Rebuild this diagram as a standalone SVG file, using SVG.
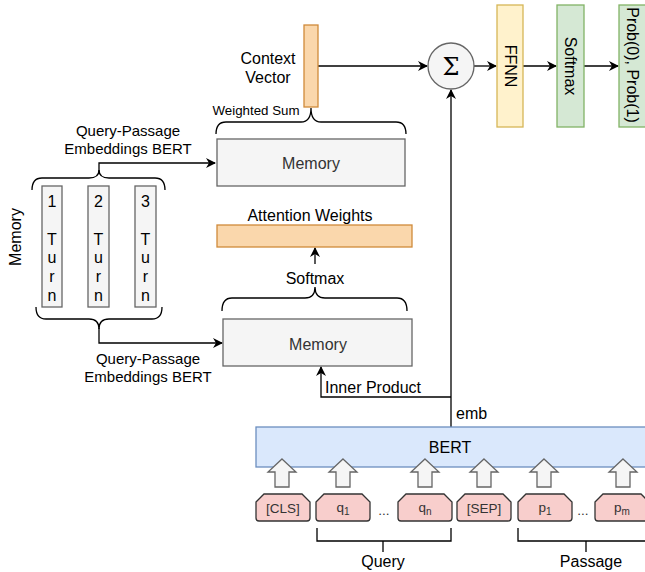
<svg xmlns="http://www.w3.org/2000/svg" width="645" height="572" viewBox="0 0 645 572">
<defs>
<marker id="arr" viewBox="0 0 10 10" refX="9" refY="5" markerWidth="10" markerHeight="10" markerUnits="userSpaceOnUse" orient="auto">
<path d="M0,0 L10,5 L0,10 L3,5 Z" fill="#000"/>
</marker>
<style>
text{font-family:"Liberation Sans",Arial,sans-serif;fill:#000}
.t16{font-size:16px}
.t15{font-size:15px}
.t13{font-size:13px}
.tk{font-size:13.5px;fill:#333}
.gray{fill:#f5f5f5;stroke:#666;stroke-width:1.3}
.orange{fill:#fad7ac;stroke:#d08a3a;stroke-width:1.3}
.line{fill:none;stroke:#000;stroke-width:1.3}
.tok{fill:#f8cecc;stroke:#333;stroke-width:1.3}
.barr{fill:#f5f5f5;stroke:#666;stroke-width:1.3}
.memtxt{fill:#333}
</style>
</defs>
<rect width="645" height="572" fill="#fff"/>

<g id="connectors">
<path class="line" d="M318,66 L427,66" marker-end="url(#arr)"/>
<path class="line" d="M474,66 L496,66" marker-end="url(#arr)"/>
<path class="line" d="M523,66 L556,66" marker-end="url(#arr)"/>
<path class="line" d="M584,66 L618,66" marker-end="url(#arr)"/>
<path class="line" d="M451,427 L451,90" marker-end="url(#arr)"/>
<path class="line" d="M451,397 L321,397 L321,367" marker-end="url(#arr)"/>
<path class="line" d="M315,264 L315,248" marker-end="url(#arr)"/>
<path class="line" d="M99,172 L99,163 L215,163" marker-end="url(#arr)"/>
<path class="line" d="M99,328 L99,343 L222,343" marker-end="url(#arr)"/>
<path class="line" d="M216,134 Q216,122 226,122 L301,122 Q311,122 311,108 Q311,122 321,122 L396,122 Q406,122 406,134"/>
<path class="line" d="M222,311 Q222,298 232,298 L305,298 Q315,298 315,287 Q315,298 325,298 L397,298 Q407,298 407,311"/>
<path class="line" d="M32,190 Q32,178 42,178 L89,178 Q99,178 99,170 Q99,178 109,178 L155,178 Q165,178 165,190"/>
<path class="line" d="M36,307 Q36,319 46,319 L89,319 Q99,319 99,329 Q99,319 109,319 L152,319 Q162,319 162,307"/>
<path class="line" d="M317,528 L317,541 L451,541 L451,528 M383,541 L383,552"/>
<path class="line" d="M518,528 L518,541 L650,541 M586,541 L586,552"/>
</g>

<g id="context-vector">
<rect class="orange" x="304" y="25" width="14" height="82"/>
<text class="t16" x="268" y="64" text-anchor="middle">Context</text>
<text class="t16" x="268" y="83" text-anchor="middle">Vector</text>
</g>
<g id="weighted-sum"><text style="font-size:13.3px" x="256" y="115" text-anchor="middle">Weighted Sum</text></g>

<g id="memory-top">
<rect class="gray" x="217" y="139" width="188" height="47"/>
<text class="t16 memtxt" x="311" y="169" text-anchor="middle">Memory</text>
</g>

<g id="attention-weights">
<text class="t16" x="310" y="221" text-anchor="middle">Attention Weights</text>
<rect class="orange" x="217" y="225" width="195" height="22"/>
</g>

<g id="softmax-label"><text class="t16" x="315" y="284" text-anchor="middle">Softmax</text></g>

<g id="memory-bottom">
<rect class="gray" x="223" y="319" width="189" height="47"/>
<text class="t16 memtxt" x="318" y="350" text-anchor="middle">Memory</text>
</g>

<g id="inner-product"><text class="t16" x="325" y="393">Inner Product</text></g>

<g id="qp-top">
<text class="t15" x="128" y="136" text-anchor="middle">Query-Passage</text>
<text class="t15" x="128" y="154" text-anchor="middle">Embeddings BERT</text>
</g>
<g id="qp-bottom">
<text class="t15" x="148" y="364" text-anchor="middle">Query-Passage</text>
<text class="t15" x="148" y="382" text-anchor="middle">Embeddings BERT</text>
</g>

<g id="memory-label"><text class="t16" transform="translate(21,237) rotate(-90)" text-anchor="middle">Memory</text></g>

<g id="turn1">
<rect class="gray" x="42" y="186" width="20" height="121"/>
<g class="t16" text-anchor="middle" style="fill:#333">
<text x="52" y="207">1</text><text x="52" y="245">T</text><text x="52" y="263">u</text><text x="52" y="282">r</text><text x="52" y="301">n</text>
</g>
</g>
<g id="turn2">
<rect class="gray" x="88" y="186" width="21" height="121"/>
<g class="t16" text-anchor="middle" style="fill:#333">
<text x="98.5" y="207">2</text><text x="98.5" y="245">T</text><text x="98.5" y="263">u</text><text x="98.5" y="282">r</text><text x="98.5" y="301">n</text>
</g>
</g>
<g id="turn3">
<rect class="gray" x="135" y="186" width="21" height="121"/>
<g class="t16" text-anchor="middle" style="fill:#333">
<text x="145.5" y="207">3</text><text x="145.5" y="245">T</text><text x="145.5" y="263">u</text><text x="145.5" y="282">r</text><text x="145.5" y="301">n</text>
</g>
</g>

<g id="sum">
<circle class="gray" cx="451" cy="66" r="23"/>
<text x="451" y="75" text-anchor="middle" style="font-family:'DejaVu Serif','Liberation Serif',serif;font-size:24px">Σ</text>
</g>

<g id="ffnn">
<rect x="497" y="5" width="26" height="122" fill="#fff2cc" stroke="#d6b656" stroke-width="1.3"/>
<text class="t16" transform="translate(505,66) rotate(90)" text-anchor="middle">FFNN</text>
</g>
<g id="softmax-out">
<rect x="557" y="5" width="27" height="122" fill="#d5e8d4" stroke="#82b366" stroke-width="1.3"/>
<text class="t16" transform="translate(565,66) rotate(90)" text-anchor="middle">Softmax</text>
</g>
<g id="prob">
<rect x="619" y="5" width="32" height="122" fill="#d5e8d4" stroke="#82b366" stroke-width="1.3"/>
<text class="t16" transform="translate(627,65) rotate(90)" text-anchor="middle">Prob(0), Prob(1)</text>
</g>

<g id="emb-label"><text class="t16" x="456" y="419">emb</text></g>

<g id="bert">
<rect x="256" y="427" width="395" height="40" fill="#dae8fc" stroke="#6c8ebf" stroke-width="1.3"/>
<text class="t16" x="450" y="453" text-anchor="middle">BERT</text>
</g>

<g id="input-arrows">
<path class="barr" d="M282,459 L296,472 L289,472 L289,487 L275,487 L275,472 L268,472 Z"/>
<path class="barr" d="M343,459 L357,472 L350,472 L350,487 L336,487 L336,472 L329,472 Z"/>
<path class="barr" d="M425,459 L439,472 L432,472 L432,487 L418,487 L418,472 L411,472 Z"/>
<path class="barr" d="M484,459 L498,472 L491,472 L491,487 L477,487 L477,472 L470,472 Z"/>
<path class="barr" d="M544,459 L558,472 L551,472 L551,487 L537,487 L537,472 L530,472 Z"/>
<path class="barr" d="M623,459 L637,472 L630,472 L630,487 L616,487 L616,472 L609,472 Z"/>
</g>

<g id="tok-cls">
<path class="tok" d="M256,502 L264,494 L302,494 L310,502 L310,518 Q310,521 307,521 L259,521 Q256,521 256,518 Z"/>
<text class="tk" x="283" y="513" text-anchor="middle">[CLS]</text>
</g>
<g id="tok-q1">
<path class="tok" d="M316,502 L324,494 L362,494 L370,502 L370,518 Q370,521 367,521 L319,521 Q316,521 316,518 Z"/>
<text class="tk" x="343" y="512" text-anchor="middle">q<tspan font-size="10" dy="3">1</tspan></text>
</g>
<g id="dots1"><text class="tk" x="384" y="515" text-anchor="middle">...</text></g>
<g id="tok-qn">
<path class="tok" d="M398,502 L406,494 L444,494 L452,502 L452,518 Q452,521 449,521 L401,521 Q398,521 398,518 Z"/>
<text class="tk" x="425" y="512" text-anchor="middle">q<tspan font-size="10" dy="3">n</tspan></text>
</g>
<g id="tok-sep">
<path class="tok" d="M457,502 L465,494 L503,494 L511,502 L511,518 Q511,521 508,521 L460,521 Q457,521 457,518 Z"/>
<text class="tk" x="484" y="513" text-anchor="middle">[SEP]</text>
</g>
<g id="tok-p1">
<path class="tok" d="M518,502 L526,494 L564,494 L572,502 L572,518 Q572,521 569,521 L521,521 Q518,521 518,518 Z"/>
<text class="tk" x="545" y="512" text-anchor="middle">p<tspan font-size="10" dy="3">1</tspan></text>
</g>
<g id="dots2"><text class="tk" x="583" y="515" text-anchor="middle">...</text></g>
<g id="tok-pm">
<path class="tok" d="M595,502 L603,494 L641,494 L649,502 L649,518 Q649,521 646,521 L598,521 Q595,521 595,518 Z"/>
<text class="tk" x="622" y="512" text-anchor="middle">p<tspan font-size="10" dy="3">m</tspan></text>
</g>

<g id="query-label"><text class="t16" x="383" y="567" text-anchor="middle">Query</text></g>
<g id="passage-label"><text class="t16" x="591" y="567" text-anchor="middle">Passage</text></g>
</svg>
